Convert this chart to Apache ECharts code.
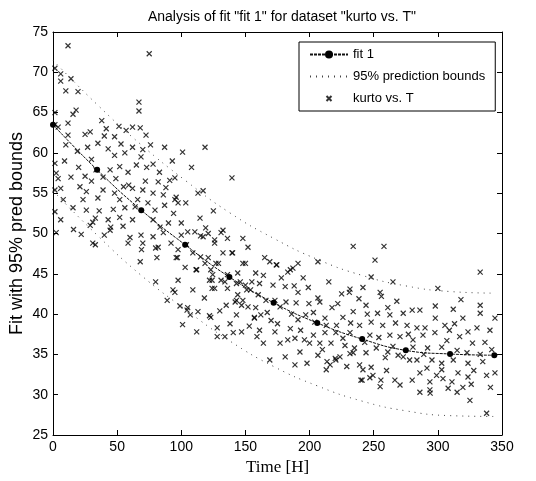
<!DOCTYPE html>
<html>
<head>
<meta charset="utf-8">
<script src="https://cdn.jsdelivr.net/npm/echarts@6/dist/echarts.min.js"></script>
<style>html,body{margin:0;padding:0;background:#fff}#c{width:536px;height:481px}</style>
</head>
<body>
<div id="c"></div>
<script>
// ---- data ----
const fitTime = [0, 34.4, 68.8, 103, 137.5, 172, 206, 241, 275, 309.5, 344];
const fitValues = [63.5, 57.9, 52.9, 48.6, 44.6, 41.4, 38.9, 36.9, 35.5, 35.05, 34.9];
const upperBound = [71.5, 66.0, 61.0, 56.6, 52.6, 49.4, 46.8, 44.8, 43.5, 42.8, 42.6];
const lowerBound = [55.3, 49.8, 44.8, 40.6, 36.7, 33.5, 31.1, 29.2, 28.0, 27.4, 27.3];
const xTicks = [0, 50, 100, 150, 200, 250, 300, 350];
const yTicks = [25, 30, 35, 40, 45, 50, 55, 60, 65, 70, 75];
const kurtoPoints = [
[11.7,73.3],[75,72.3],[1.5,70.5],[6,69.8],[6,68.9],[14,69.2],[10,67.7],[19.5,67.6],[67,66.3],[67,65.2],[18,65.3],[15.6,64.8],[1.5,65],[1.5,63.5],[11.7,63.7],[38,64],[51.4,63.3],[62,63.2],[68,63.1],[41.5,63],[4,63.2],[11.7,62.2],[25,62.3],[40,62.1],[48,62],[72.5,62.2],[29,62.6],
[10,61],[27,60.7],[35,61.2],[53,61.1],[62,60.7],[70,60.4],[76,61],[87,60.7],[48,59.7],[56,60],[68.6,59.5],[9,59],[1.5,58.7],[65,58.5],[78,58.6],[33.5,57.9],[44.5,57.9],[52,58.3],[58.5,57.6],[2.5,57.5],[4,56.8],[14,57],[25,57.1],[39,57],[49,56.8],[72,56.5],[82,56.4],[91,56.6],[6,55.6],[21,55.8],[26,55.2],[39,55.4],[48,55],[62,55.6],[70,55.4],[78,55],[86,54.8],[23.4,54.2],[35,54.4],[52,54.2],[66,54.2],[64,53.3],[15.6,53.2],[26,52.9],[56,53.2],[79.5,52.9],[87,53.5],[33,51.9],[43,51.7],[52,52],[62,51.7],[78,51.7],[29,51],[45,50.8],[54.6,50.9],[83.4,50.8],[90,51.3],[2.5,50.1],[22,49.9],[68.6,49.8],[78,49.6],[86,50.1],[33,48.6],[80,48.2],[92,48.8],[70,48.8],
[31,48.8],[68,46.5],[58.5,48.8],[81,47],[89,41.7],[80,44],[93.5,43],[31,51.4],[44.5,50.4],[69,48],[82,48.3],[97,47],
[1.5,55.4],[1.5,52.7],[6,51.7],[19,60.2],[30,59.2],[43,60.5],[57,62.8],[83,57.6],[93,59],[20,58.2],[59,56],[36,52.8],[47,53],[74,53.8],[60,49.5],[94,52.5],[16,50.5],[40,49.8],[8,54.2],[30,56.5],[55,55.8],[73,58.2],[88,55.7],[96,54.5],
[104.5,40.5],[107,39.9],[113,40.3],[122,39.8],[109,43],[128,38.3],[134,37.2],[147,37.8],[124,43.2],[136,43.2],
[105,50.2],[110.6,50.2],[117,49.6],[121,50],[126,49.2],[136,49.4],[132.5,50.4],[148,49.4],[139.5,47.6],[121,47],[129,46.3],[148,46.3],[112,45.5],[124,44.2],[134,44],[143,43.8],[151,43],[143,41.7],[147,41.1],[143,39.9],[140.5,37.7],[128,37.2],
[100,51.3],[114.6,51.9],[119,50.7],[115,49.7],[131,50.1],[100,49.8],[104,48.6],[126,48.8],[97.5,48],[109,47.6],[115,47.1],[132.5,47.6],[140,47.6],[96,47],[118.5,46.3],[127,46.3],[150,46.3],[165,47],[169,46.5],[174,46.1],[183,45.2],[111.5,45.5],[123,45.5],[124.5,44.9],[136,44.9],[144,45.1],[158,45.1],[97.5,44.2],[122,44.2],[131,44.2],[146,44],[150,43.6],[161,43.8],[171.5,43.6],[126,43.2],[154,43],[181,43.4],[95,42.7],[144,42.4],[160,42.4],[166,41.7],[173,41.7],[148,41.7],[142,41.5],[152,40.9],[158,40.8],[177,40.9],[181.6,41.5],[105,40.8],[123,39.6],[157,39.6],[162,39.9],[135,41.1],
[101,60.1],[118.5,60.7],[95,56.9],[113,55],[117,55.3],[95,54.2],[97.5,53.8],[103.5,53.8],
[174.5,46.1],[185,45.5],[191,46.3],
[157,39.5],[161,38],[173,37.8],[183,36.8],[177,36.4],[169,34.3],[181,34.7],[159,37.2],
[139.5,56.9],[108,58.2],[125,52.8],[152,48.3],[164,44.8],[178,44.5],[155,44],[167,40.2],[186,40],[170,39.2],[188,43.5],[103,45.8],[99,41],[118,42],[130,40.4],[138,38.8],[153,38.5],[175,38.8],[164,36.4],[185,38.2],[101,38.7],[112,37.8],
[234,48.4],[258,48.4],[251,46.7],[187,45.7],[206.5,46.5],[191,42.7],[199,43.3],[231,42.7],[231.5,43.1],[241.6,43.3],[255,42.7],[256,42.2],[206.5,42],[208,41.5],[189.5,41.4],[199.5,41.3],[238.5,41.9],[244,41.1],[217.5,40.8],[261,40.8],
[197,39.9],[212,39.5],[226,39.6],[234,40.3],[253,40.1],[262.6,39.9],[191,39.3],[204,39],[213,38.6],[221,38.6],[232,38.9],[239,38.6],[248,39],[257,38.6],[267,38.9],[193,38],[203,37.4],[212,37.7],[220.5,37.7],[231.5,37.7],[247,37.4],[262.6,37.4],[270.5,37.2],[188.6,37],[200,36.4],[208,36.4],[216.7,36.4],[227.6,36.1],[235,35.8],[252,35.8],[261,35.3],[192.5,35.3],[206.5,34.9],[223.7,34.7],[234,35.2],[244,35.2],[269,34.9],[259,34.6],[220.5,34.3],[216,33.7],[239,33.7],[248,33.4],[213,33.1],[241.6,33.1],[249.4,32.4],[240,31.8],[247,32.1],[255.6,31.8],[266.5,31.8],[255,31],[270.5,31.2],
[188.6,33.7],[213.6,34.1],[220,34.5],[231.5,35.1],[241,31.8],
[195,44.5],[215,44],[225,42.5],[248,44.6],[265,44],[203,40.2],[222,41.3],[245,40],[268,41.6],[196,36.8],[226,37],[254,37.1],[210,35.6],[243,36.5],[198,33.9],[229,33.5],[260,33],[265,36],
[333,45.2],[300,43.2],[298,41],[312,40.6],[333,41.1],[333,40.1],[344.5,39.5],[319.5,39.5],[305.5,38.6],[309,38],[317,37.2],[323.5,37.8],[330.5,38.3],[340.6,38],[336.7,36.5],[315,35.5],[322.7,35.2],[333,35],[303,35.9],[295.4,34.3],[303,33.9],[312,34.3],[323.5,33.9],[335,34.1],[344.5,32.7],[338,32.4],[315.7,32.7],[323.5,32.2],[303,33.1],[299,32.4],[311,31.6],[315,30.3],[319.5,30.9],[325,29.3],[286,32.7],[291.5,33.3],[293.8,31.6],[283.7,34.3],[278,34.3],[286,30.3],[293.8,30.6],[338,27.7],[280.6,36.8],[288.4,37.4],[283.7,38.3],[290,38.3],[297.7,37.7],[280,40.5],[286,40.5],[273,40.1],[280.6,35.9],[273,34.7],[280,31.8],[294,30.2],
[276,38.6],[292,35.8],[307,36.7],[327,36.4],[342,35.6],[298,39.5],[318,41.8],[328,33],[308,30.8],[341,30.9],[277,37.5],[289,35],[313,38.8],[304,32],[326,31.3]
];

const fitData = fitTime.map((t, i) => [t, fitValues[i]]);
const upperData = fitTime.map((t, i) => [t, upperBound[i]]);
const lowerData = fitTime.map((t, i) => [t, lowerBound[i]]);

const FONT = 'Liberation Sans';
const xMin = xTicks[0], xMax = xTicks[xTicks.length - 1], xStep = xTicks[1] - xTicks[0];
const yMin = yTicks[0], yMax = yTicks[yTicks.length - 1], yStep = yTicks[1] - yTicks[0];

const baseX = {
  type: 'value', min: xMin, max: xMax, interval: xStep,
  axisLine: { show: true, onZero: false, lineStyle: { color: '#000', width: 1 } },
  axisTick: { show: true, inside: true, length: 5, lineStyle: { color: '#000' } },
  splitLine: { show: false }
};
const baseY = {
  type: 'value', min: yMin, max: yMax, interval: yStep,
  axisLine: { show: true, onZero: false, lineStyle: { color: '#000', width: 1 } },
  axisTick: { show: true, inside: true, length: 5, lineStyle: { color: '#000' } },
  splitLine: { show: false }
};

const chart = echarts.init(document.getElementById('c'), null, { renderer: 'canvas' });
chart.setOption({
  animation: false,
  backgroundColor: '#fff',
  title: {
    text: 'Analysis of fit "fit 1" for dataset "kurto vs. T"',
    left: 277, top: 5, textAlign: 'center',
    textStyle: { fontFamily: FONT, fontSize: 14, fontWeight: 'normal', color: '#000' }
  },
  grid: { left: 53, right: 34, top: 32, bottom: 46, containLabel: false, outerBoundsMode: 'none' },
  legend: {
    orient: 'vertical', left: 299, top: 42,
    padding: [6, 10, 6, 10],
    itemGap: 9, itemWidth: 38, itemHeight: 10,
    borderColor: '#000', borderWidth: 1, backgroundColor: '#fff',
    textStyle: { fontFamily: FONT, fontSize: 13, color: '#000' },
    data: [
      { name: 'fit 1' },
      { name: '95% prediction bounds', itemStyle: { color: 'rgba(0,0,0,0)', borderWidth: 0, opacity: 0 } },
      { name: 'kurto vs. T', icon: 'path://M0,0M16,16M4,4L12,12M12,4L4,12' }
    ]
  },
  xAxis: [
    Object.assign({}, baseX, {
      position: 'bottom',
      name: 'Time [H]', nameLocation: 'middle', nameGap: 24,
      nameTextStyle: { fontFamily: 'Liberation Serif', fontSize: 17, color: '#000', fontWeight: 'normal' },
      axisLabel: { show: true, color: '#000', fontFamily: FONT, fontSize: 14, margin: 5 }
    }),
    Object.assign({}, baseX, { position: 'top', axisLabel: { show: false } })
  ],
  yAxis: [
    Object.assign({}, baseY, {
      position: 'left',
      name: 'Fit with 95% pred bounds', nameLocation: 'middle', nameGap: 27,
      nameMoveOverlap: false,
      nameTextStyle: { fontFamily: FONT, fontSize: 18, color: '#000' },
      axisLabel: { show: true, color: '#000', fontFamily: FONT, fontSize: 14, margin: 5 }
    }),
    Object.assign({}, baseY, { position: 'right', axisLabel: { show: false } })
  ],
  series: [
    {
      name: 'kurto vs. T', type: 'scatter', xAxisIndex: 0, yAxisIndex: 0,
      symbol: 'path://M0,0L10,10M10,0L0,10', symbolSize: 5,
      itemStyle: { color: 'rgba(0,0,0,0)', borderColor: '#000', borderWidth: 1.2 },
      data: kurtoPoints, z: 2
    },
    {
      name: '95% prediction bounds', type: 'line', smooth: true, showSymbol: false, symbol: 'none', symbolSize: 0,
      itemStyle: { color: '#444' },
      lineStyle: { color: '#444', width: 1, type: [1, 5] },
      data: upperData, z: 3
    },
    {
      name: '95% prediction bounds', type: 'line', smooth: true, showSymbol: false, symbol: 'none', symbolSize: 0,
      itemStyle: { color: '#444' },
      lineStyle: { color: '#444', width: 1, type: [1, 5] },
      data: lowerData, z: 3
    },
    {
      name: 'fit 1', type: 'line', smooth: true,
      symbol: 'circle', symbolSize: 6, showSymbol: true,
      itemStyle: { color: '#000' },
      lineStyle: { color: '#111', width: 1, type: [3, 1] },
      data: fitData, z: 4
    }
  ]
});
</script>
</body>
</html>
